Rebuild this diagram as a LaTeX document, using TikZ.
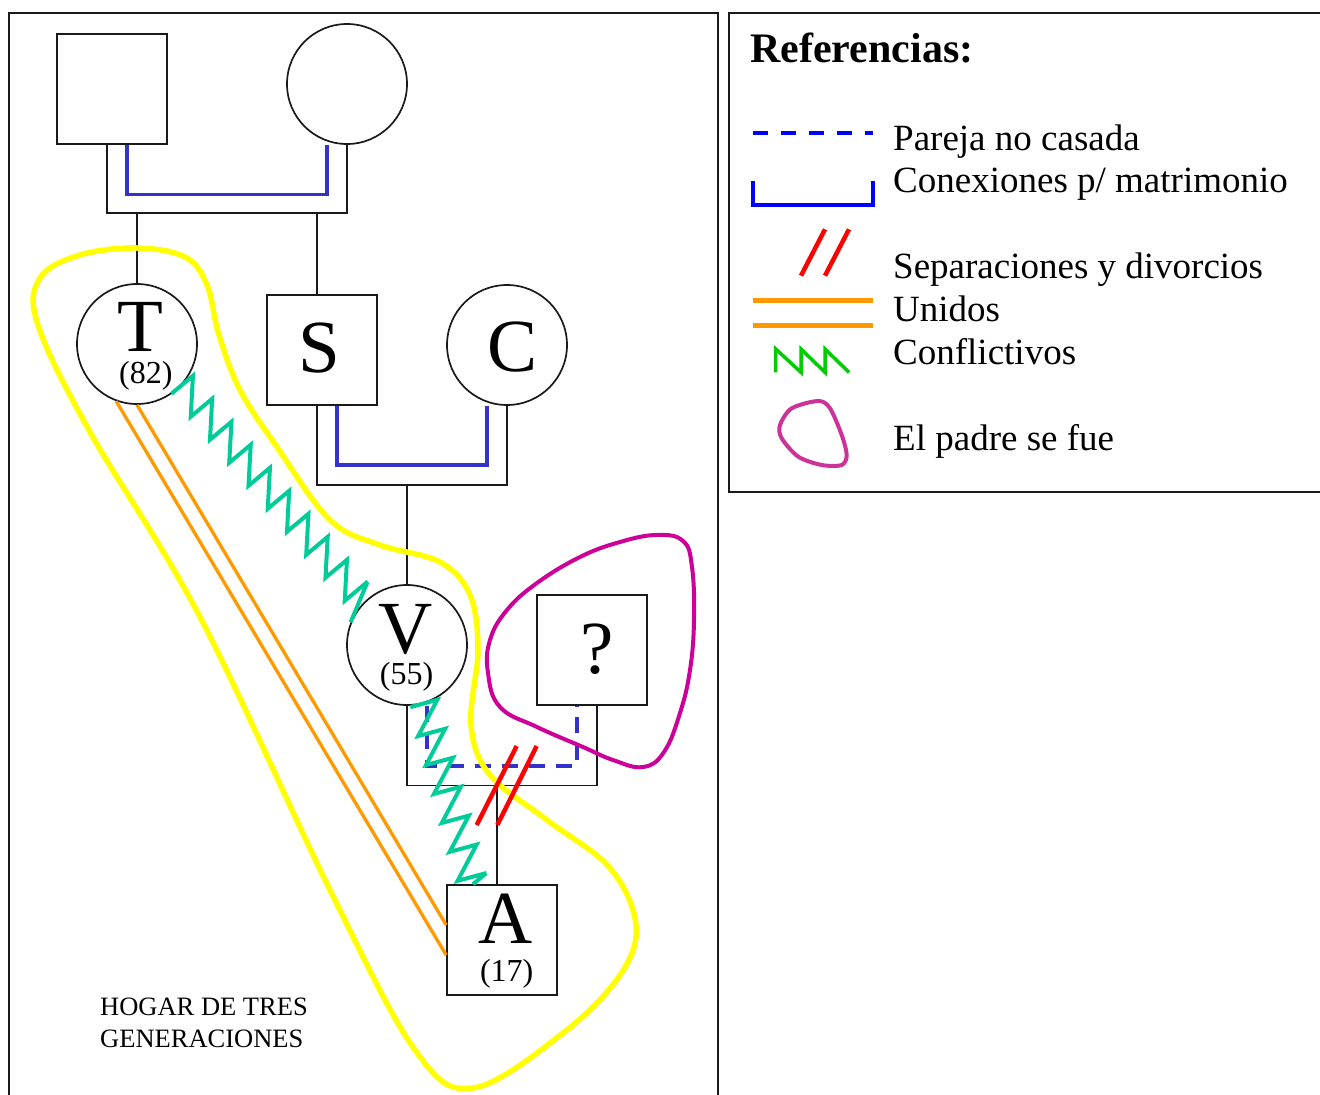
\documentclass[tikz,border=0pt]{standalone}
\usepackage{fontspec}
\setmainfont{Liberation Serif}
\usetikzlibrary{calc,decorations.pathmorphing}
\definecolor{kblue}{HTML}{3333CC}
\definecolor{lblue}{HTML}{0000FF}
\definecolor{kteal}{HTML}{00CC99}
\definecolor{lgreen}{HTML}{00CC00}
\definecolor{korange}{HTML}{FF9900}
\definecolor{kyellow}{HTML}{FFFF00}
\definecolor{kmag}{HTML}{CC0099}
\definecolor{lmag}{HTML}{CC3399}
\definecolor{kred}{HTML}{FF0000}
\definecolor{kline}{HTML}{1A1A1A}
\begin{document}
\begin{tikzpicture}[x=1pt,y=-1pt,
  male/.style={draw=kline,line width=1.7pt,rectangle,minimum size=110pt,inner sep=0pt},
  female/.style={draw=kline,line width=1.7pt,circle,minimum size=120pt,inner sep=0pt},
  kin/.style={draw=kline,line width=1.7pt},
  marr/.style={draw=kblue,line width=3.5pt},
  unmarr/.style={draw=kblue,line width=3.5pt,dash pattern=on 16pt off 11pt},
  union/.style={draw=korange,line width=3.3pt},
  conflict/.style={draw=kteal,line width=4pt},
  sawdec/.style={decoration={saw,segment length=30pt,amplitude=-28pt}},
  divorce/.style={draw=kred,line width=4.5pt},
  big/.style={font=\fontsize{75}{75}\selectfont,inner sep=0pt,anchor=base},
  age/.style={font=\fontsize{32}{32}\selectfont,inner sep=0pt,anchor=base},
  leg/.style={font=\fontsize{37}{37}\selectfont,inner sep=0pt,anchor=base west},
  note/.style={font=\fontsize{26.5}{26.5}\selectfont,inner sep=0pt,anchor=base west},
]
\useasboundingbox (0,0) rectangle (1320,1095);
\fill[white] (0,0) rectangle (1320,1095);

% frames
\draw[kin] (9,1096) -- (9,13) -- (718,13) -- (718,1096);
\draw[kin] (1321,13) -- (729,13) -- (729,492) -- (1321,492);

% persons
\node[male] (F) at (112,89) {};
\node[female] (M) at (347,84) {};
\node[female] (T) at (137,344) {};
\node[male] (S) at (322,350) {};
\node[female] (C) at (507,345) {};
\node[female] (V) at (407,645) {};
\node[male] (Q) at (592,650) {};
\node[male] (A) at (502,940) {};

\node[big] (tT) at (140.8,351.7) {T};
\node[age] (tTa) at (145.8,383.3) {(82)};
\node[big] (tS) at (319.5,372) {S};
\node[big] (tC) at (513,371) {C};
\node[big] (tV) at (406,653) {V};
\node[age] (tVa) at (406.5,684) {(55)};
\node[big] (tQ) at (596.7,673) {?};
\node[big] (tA) at (505.8,943) {A};
\node[age] (tAa) at (506.7,981.7) {(17)};

% first couple
\coordinate (b1) at (0,213);
\coordinate (b1m) at (0,194.5);
\coordinate (fK) at ($(F.south)+(-5,0)$);
\coordinate (fL) at ($(F.south)+(15,0)$);
\coordinate (mR) at ($(M.south)+(-20,0)$);
\draw[kin] (fK) |- (M.south |- b1) -- (M.south);
\draw[marr] (fL) |- (mR |- b1m) -- (mR);
\draw[kin] (T.north |- b1) -- (T.north);
\coordinate (sK) at ($(S.north)+(-5,0)$);
\draw[kin] (sK |- b1) -- (sK);

% S - C
\coordinate (b2) at (0,485);
\coordinate (b2m) at (0,465);
\coordinate (sBK) at ($(S.south)+(-5,0)$);
\coordinate (sBB) at ($(S.south)+(15,0)$);
\coordinate (cB) at ($(C.south)+(-20,0)$);
\draw[kin] (sBK) |- (C.south |- b2) -- (C.south);
\draw[marr] (sBB) |- (cB |- b2m) -- (cB);
\draw[kin] (V.north |- b2) -- (V.north);

% V - ?
\coordinate (b3) at (0,785.5);
\coordinate (b3m) at (0,766);
\coordinate (qK) at ($(Q.south)+(5,0)$);
\coordinate (vB) at ($(V.south)+(20,0)$);
\coordinate (qB) at ($(Q.south)+(-15,0)$);
\draw[kin] (V.south) |- (qK |- b3) -- (qK);
\draw[unmarr] (vB) |- (qB |- b3m) -- (qB);
\coordinate (aK) at ($(A.north)+(-5,0)$);
\draw[kin] (aK |- b3) -- (aK);

% yellow household
\draw[kyellow,line width=5.5pt] plot[smooth cycle,tension=0.6] coordinates {
 (137,248) (185,257) (207,285) (219,335) (240,390) (277,447) (330,520) (380,545)
 (440,562) (470,595) (478,650) (471,725) (490,775) (547,820) (610,868) (636,925)
 (620,975) (563,1033) (473,1088) (415,1050) (330,890) (200,617) (90,432) (38,325)
 (40,278) (80,255)};

% magenta: father left
\draw[kmag,line width=4pt] plot[smooth cycle,tension=0.7] coordinates {
 (656.7,535) (683,541) (692,567) (694,620) (690,670) (680,713) (664,752) (643,767)
 (613,760) (583,747) (537,727) (500,707) (488,673) (490,640) (507,610) (537,583)
 (580,557) (620,542)};

% divorce marks
\draw[divorce] (476.7,825) -- (516.7,746);
\draw[divorce] (497.3,825) -- (536.7,746);

% conflicts T - V
\coordinate (tLo) at ($(T.-42)!14pt!-90:(V.135)$);
\coordinate (tHi) at ($(T.-42)!14pt!90:(V.135)$);
\coordinate (tHi2) at ($(V.135)!14pt!-90:(T.-42)$);
\coordinate (tHiE) at ($(tHi)!271pt!(tHi2)$);
\draw[conflict] (tLo) -- (tHi) decorate[sawdec] { -- (tHiE) } -- (V.158);
% conflicts V - A
\coordinate (aZ) at ($(A.north west)!0.24!(A.north east)$);
\coordinate (vLo) at ($(V.-74)!14pt!-90:(aZ)$);
\coordinate (vHi) at ($(V.-74)!14pt!90:(aZ)$);
\coordinate (vHi2) at ($(aZ)!14pt!-90:(V.-74)$);
\coordinate (vHiE) at ($(vHi)!181pt!(vHi2)$);
\draw[conflict] (vLo) -- (vHi) decorate[sawdec] { -- (vHiE) } -- (aZ);

% unions
\draw[union] (T.south) -- ($(A.west)+(0,-15)$);
\draw[union] (T.-110) -- ($(A.west)+(0,15)$);

\node[note] (h1) at (100,1015) {HOGAR DE TRES};
\node[note] (h2) at (100,1047) {GENERACIONES};

% legend
\node[font=\bfseries\fontsize{42}{42}\selectfont,inner sep=0pt,anchor=base west] (ref) at (750,62) {Referencias:};
\draw[lblue,line width=4pt,dash pattern=on 15pt off 13pt] (753,132.7) -- (873,132.7);
\draw[lblue,line width=3.5pt] (753,181) -- (753,205) -- (873,205) -- (873,181);
\draw[kred,line width=4.5pt] (801,275.7) -- (825,229.3) (825,275.7) -- (849,229.3);
\draw[korange,line width=5pt] (753,300.7) -- (873,300.7) (753,325) -- (873,325);
\draw[lgreen,line width=3.5pt] (775.7,372.3) -- (775.7,349) -- (801,372.3) -- (801,349) -- (825,372.3) -- (825,349) -- (849,372.3);
\draw[lmag,line width=4pt] plot[smooth cycle] coordinates {(780,425) (791.7,408.3) (818.3,401) (830,408.3) (841.7,435) (846.7,455) (841.7,465) (821.7,465) (798.3,456.7) (781.7,438.3)};
\node[leg] (l1) at (893,150) {Pareja no casada};
\node[leg] (l2) at (893,192) {Conexiones p/ matrimonio};
\node[leg] (l3) at (893,278) {Separaciones y divorcios};
\node[leg] (l4) at (893,321) {Unidos};
\node[leg] (l5) at (893,364.5) {Conflictivos};
\node[leg] (l6) at (893,450.5) {El padre se fue};
\end{tikzpicture}
\end{document}
